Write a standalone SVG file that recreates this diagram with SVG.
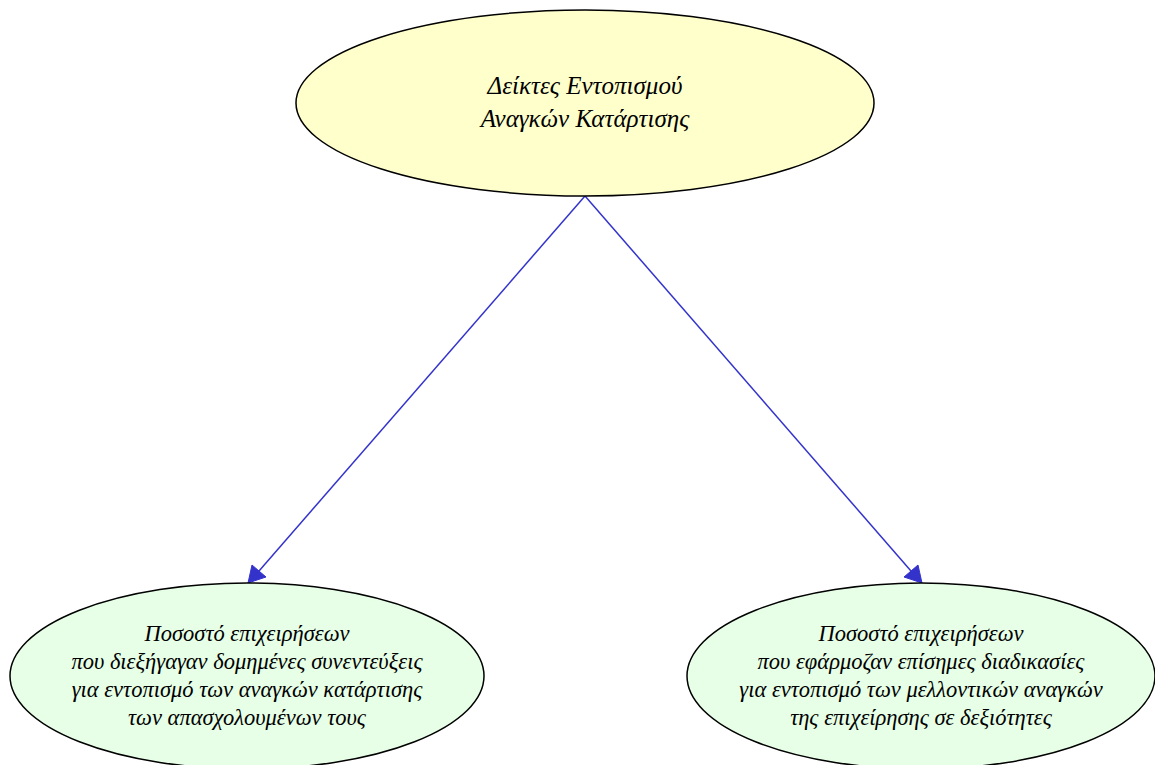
<svg xmlns="http://www.w3.org/2000/svg" width="1155" height="765" viewBox="0 0 1155 765">
<style>
.t{font-family:"Liberation Serif","DejaVu Serif",serif;font-style:italic;font-size:22.5px;fill:#000;text-anchor:middle}
.big{font-size:25px}
.n{stroke:#000;stroke-width:1.5}
.e{stroke:#3333cc;stroke-width:1.5;fill:none}
.ah{fill:#3333cc;stroke:#3333cc}
</style>
<rect width="1155" height="765" fill="#fff"/>
<g id="edges">
<line class="e" x1="585" y1="196" x2="259" y2="571"/>
<polygon class="ah" points="248,583 252,565 266,577"/>
<line class="e" x1="585" y1="196" x2="911" y2="571"/>
<polygon class="ah" points="922,583 904,577 918,565"/>
</g>
<g id="root">
<ellipse class="n" cx="585" cy="103" rx="289" ry="93" fill="#ffffcc"/>
<text class="t big" x="585" y="94">Δείκτες Εντοπισμού</text>
<text class="t big" x="585" y="127">Αναγκών Κατάρτισης</text>
</g>
<g id="left">
<ellipse class="n" cx="247" cy="676" rx="237" ry="93" fill="#e6ffe6"/>
<text class="t" x="247" y="641">Ποσοστό επιχειρήσεων</text>
<text class="t" x="247" y="669">που διεξήγαγαν δομημένες συνεντεύξεις</text>
<text class="t" x="247" y="697">για εντοπισμό των αναγκών κατάρτισης</text>
<text class="t" x="247" y="725">των απασχολουμένων τους</text>
</g>
<g id="right">
<ellipse class="n" cx="921" cy="676" rx="234" ry="93" fill="#e6ffe6"/>
<text class="t" x="921" y="641">Ποσοστό επιχειρήσεων</text>
<text class="t" x="921" y="669">που εφάρμοζαν επίσημες διαδικασίες</text>
<text class="t" x="921" y="697">για εντοπισμό των μελλοντικών αναγκών</text>
<text class="t" x="921" y="725">της επιχείρησης σε δεξιότητες</text>
</g>
</svg>
